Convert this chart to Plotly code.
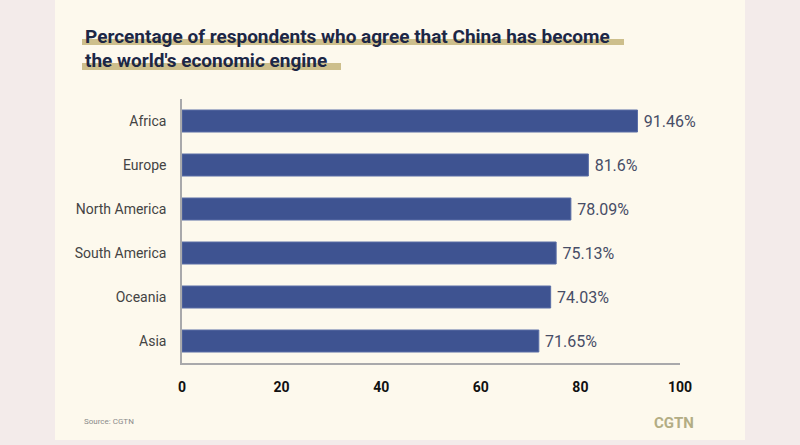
import plotly.graph_objects as go

# data
regions = ["Asia", "Oceania", "South America", "North America", "Europe", "Africa"]
shares = [71.65, 74.03, 75.13, 78.09, 81.6, 91.46]
x_ticks = [0, 20, 40, 60, 80, 100]

title_lines = ["Percentage of respondents who agree that China has become",
               "the world's economic engine"]

W, H = 800, 445
L, R, T, B = 182, 120, 99, 82
pw, ph = W - L - R, H - T - B


def px(x):
    return (x - L) / pw


def py(y):
    return (H - B - y) / ph


fig = go.Figure(go.Bar(
    x=shares,
    y=regions,
    orientation="h",
    width=0.5,
    marker=dict(color="#3e5391", line=dict(color="#5a6ea6", width=1)),
    text=[f"\u2009{v}%" for v in shares],
    textposition="outside",
    textfont=dict(family="Roboto", size=16, color="#474d66"),
    cliponaxis=False,
    hoverinfo="skip",
))

# card + title highlights
shapes = [
    dict(type="rect", xref="paper", yref="paper", x0=px(55), x1=px(745), y0=py(440), y1=py(0),
         fillcolor="#fdf9ed", line=dict(width=0), layer="below"),
    dict(type="rect", xref="paper", yref="paper", x0=px(82), x1=px(624), y0=py(45), y1=py(39),
         fillcolor="#cdbf8c", line=dict(width=0), layer="below"),
    dict(type="rect", xref="paper", yref="paper", x0=px(82), x1=px(341), y0=py(70), y1=py(63),
         fillcolor="#cdbf8c", line=dict(width=0), layer="below"),
]

annotations = [
    dict(text=title_lines[0], x=px(83), y=py(36), xref="paper", yref="paper",
         xanchor="left", yanchor="middle", showarrow=False,
         font=dict(family="Roboto", size=19, color="#1c2746", weight="bold")),
    dict(text=title_lines[1], x=px(83), y=py(60), xref="paper", yref="paper",
         xanchor="left", yanchor="middle", showarrow=False,
         font=dict(family="Roboto", size=19, color="#1c2746", weight="bold")),
    dict(text="Source: CGTN", x=px(82), y=py(421), xref="paper", yref="paper",
         xanchor="left", yanchor="middle", showarrow=False,
         font=dict(family="Roboto", size=8, color="#8a8a8a")),
    dict(text="CGTN", x=px(696), y=py(423), xref="paper", yref="paper",
         xanchor="right", yanchor="middle", showarrow=False,
         font=dict(family="Roboto", size=15, color="#b3ad84", weight="bold")),
]

fig.update_layout(
    width=W, height=H,
    margin=dict(l=L, r=R, t=T, b=B),
    paper_bgcolor="#f3ebea",
    plot_bgcolor="rgba(0,0,0,0)",
    showlegend=False,
    shapes=shapes,
    annotations=annotations,
    xaxis=dict(range=[0, 100], tickvals=x_ticks, showgrid=False, zeroline=False,
               showline=True, linecolor="#a9a9ab", linewidth=2,
               ticks="outside", ticklen=10, tickcolor="rgba(0,0,0,0)",
               tickfont=dict(family="Roboto", size=14, color="#111111", weight="bold")),
    yaxis=dict(range=[-0.5, 5.5], showgrid=False, zeroline=False,
               showline=True, linecolor="#a9a9ab", linewidth=1.5,
               ticks="outside", ticklen=11, tickcolor="rgba(0,0,0,0)",
               tickfont=dict(family="Roboto", size=14, color="#444444")),
)

# page has a default 8px body margin; remove it so the figure fills the window
fig.write_html("out.html", config={"displayModeBar": False},
               post_script="document.body.style.margin='0';")
